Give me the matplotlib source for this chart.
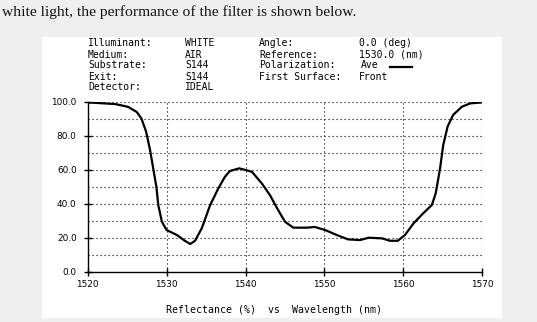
import matplotlib
matplotlib.use("Agg")
import matplotlib.pyplot as plt
from matplotlib.patches import Rectangle
from matplotlib.lines import Line2D

# reflectance curve of the filter
wavelength = [1520.0, 1523.5, 1525.1, 1526.2, 1526.8, 1527.4, 1527.9, 1528.3,
              1528.7, 1528.95, 1529.4, 1530.0, 1531.3, 1532.3, 1533.0, 1533.6,
              1534.45, 1535.5, 1536.55, 1537.4, 1538.0, 1539.2, 1540.8,
              1542.05, 1543.1, 1544.0, 1545.0, 1546.05, 1547.75, 1548.8,
              1550.1, 1551.55, 1553.0, 1554.5, 1555.6, 1557.3, 1558.3,
              1559.3, 1560.2, 1561.3, 1562.5, 1563.6, 1564.1, 1564.65,
              1565.05, 1565.6, 1566.3, 1567.4, 1568.45, 1570.0]
reflectance = [99.6, 98.6, 97.0, 94.0, 90.2, 82.4, 71.6, 60.8,
               50.0, 39.0, 29.4, 24.5, 21.6, 18.2, 16.3, 18.2,
               25.5, 39.0, 49.0, 55.9, 59.2, 60.8, 58.8,
               52.0, 45.0, 37.3, 29.4, 25.9, 25.9, 26.3,
               24.5, 21.6, 19.0, 18.6, 20.0, 19.6, 18.2,
               18.2, 21.6, 28.5, 34.3, 39.2, 46.1, 60.8,
               74.5, 85.3, 92.2, 97.0, 99.0, 99.6]

x_ticks = [1520, 1530, 1540, 1550, 1560, 1570]
y_ticks = [0, 20, 40, 60, 80, 100]
y_grid = [10, 20, 30, 40, 50, 60, 70, 80, 90, 100]

# design parameters printed above the plot
left_names = ["Illuminant:", "Medium:", "Substrate:", "Exit:", "Detector:"]
left_values = ["WHITE", "AIR", "S144", "S144", "IDEAL"]
right_names = ["Angle:", "Reference:", "Polarization:", "First Surface:"]
right_values = ["0.0 (deg)", "1530.0 (nm)", "Ave", "Front"]

W, H = 537, 322
fig = plt.figure(figsize=(W / 100, H / 100), dpi=100)
fig.patch.set_facecolor("#efefef")

fig.text(2 / W, 1 - 12 / H, "white light, the performance of the filter is shown below.",
         family="Liberation Serif", fontsize=11.15, color="#111111",
         ha="left", va="center")

panel = Rectangle((41.7 / W, 4 / H), 460 / W, 281.3 / H,
                  transform=fig.transFigure, facecolor="white",
                  edgecolor="none", zorder=-5)
fig.patches.append(panel)

mono = "DejaVu Sans Mono"
hdr_font = dict(family=mono, fontsize=7.0, color="black", va="center")
row_y = [43.5, 54.5, 65.5, 76.5, 87.5]
for i, (name, val) in enumerate(zip(left_names, left_values)):
    fig.text(88 / W, 1 - row_y[i] / H, name, ha="left", **hdr_font)
    fig.text(185 / W, 1 - row_y[i] / H, val, ha="left", **hdr_font)
for i, (name, val) in enumerate(zip(right_names, right_values)):
    fig.text(259 / W, 1 - row_y[i] / H, name, ha="left", **hdr_font)
    x0 = 361 if val == "Ave" else 359
    fig.text(x0 / W, 1 - row_y[i] / H, val, ha="left", **hdr_font)
fig.lines.append(Line2D([390 / W, 412 / W], [1 - 66.5 / H, 1 - 66.5 / H],
                        transform=fig.transFigure, color="black", lw=1.6))

ax = fig.add_axes([87.7 / W, (H - 271.7) / H, 394.6 / W, 170 / H])
ax.set_facecolor("none")
ax.plot(wavelength, reflectance, color="black", lw=1.6, zorder=3,
        solid_joinstyle="round")
ax.set_xlim(1520, 1570)
ax.set_ylim(0, 100)

dots = (0, (1, 2.6))
for yv in y_grid:
    ax.axhline(yv, color="black", lw=0.8, linestyle=dots, zorder=1)
for xv in x_ticks[1:]:
    ax.axvline(xv, color="black", lw=0.8, linestyle=dots, zorder=1)

ax.spines["top"].set_visible(False)
ax.spines["right"].set_visible(False)
for side in ["left", "bottom"]:
    ax.spines[side].set_linewidth(1.0)
    ax.spines[side].set_color("black")

ax.set_xticks(x_ticks)
ax.set_xticklabels([str(v) for v in x_ticks])
ax.set_yticks(y_ticks)
ax.set_yticklabels([f"{v:.1f}" for v in y_ticks])
ax.tick_params(axis="both", direction="inout", length=6, width=1.0,
               labelsize=6.4, colors="black")
ax.tick_params(axis="x", pad=3)
ax.tick_params(axis="y", pad=5)

fig.text(274.5 / W, 1 - 310 / H, "Reflectance (%)  vs  Wavelength (nm)",
         ha="center", va="center", family=mono, fontsize=7.1,
         color="black")

fig.savefig("out.png", dpi=100, facecolor=fig.get_facecolor())
